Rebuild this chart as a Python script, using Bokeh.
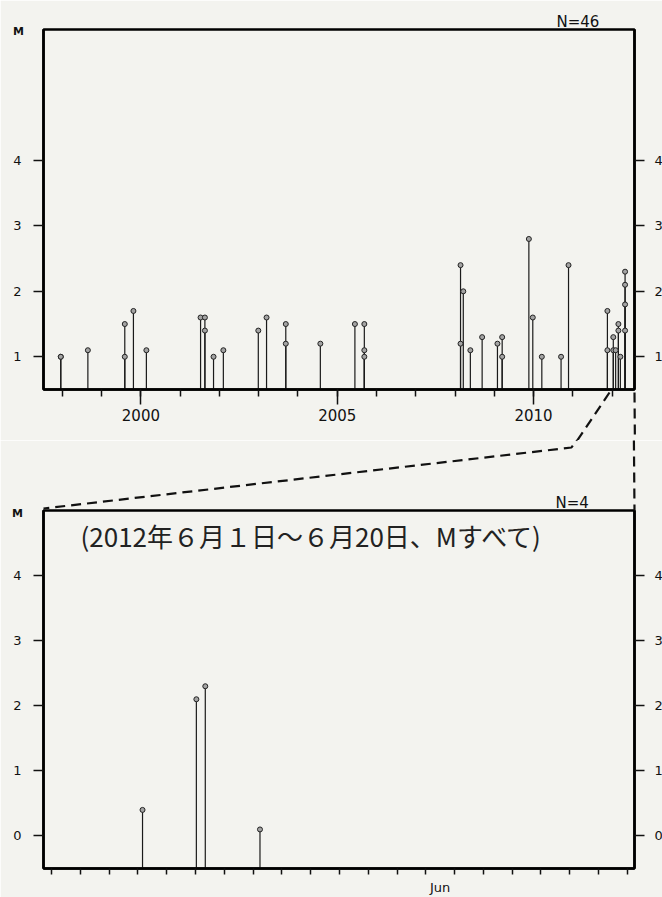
from bokeh.plotting import figure
from bokeh.models import (Range1d, LinearAxis, FixedTicker, SingleIntervalTicker,
                          Label, ColumnDataSource)
from bokeh.core.properties import value
from bokeh.layouts import column
from bokeh.embed import file_html
from bokeh.resources import INLINE

# ---------------- data ----------------
# Upper panel: events (decimal year, magnitude), N=46
top_years = [1997.96, 1997.96, 1998.65, 1999.59, 1999.59, 1999.81, 2000.14,
             2001.52, 2001.63, 2001.63, 2001.85, 2002.10, 2002.99, 2003.20,
             2003.69, 2003.69, 2004.57, 2005.45, 2005.69, 2005.69, 2005.69,
             2008.14, 2008.14, 2008.21, 2008.39, 2008.69, 2009.08, 2009.20,
             2009.20, 2009.88, 2009.98, 2010.21, 2010.70, 2010.89, 2011.88,
             2011.88, 2012.03, 2012.03, 2012.09, 2012.16, 2012.16, 2012.21,
             2012.33, 2012.33, 2012.33, 2012.33]
top_mags = [1.0, 1.0, 1.1, 1.5, 1.0, 1.7, 1.1,
            1.6, 1.6, 1.4, 1.0, 1.1, 1.4, 1.6,
            1.5, 1.2, 1.2, 1.5, 1.5, 1.1, 1.0,
            2.4, 1.2, 2.0, 1.1, 1.3, 1.2, 1.3,
            1.0, 2.8, 1.6, 1.0, 1.0, 2.4, 1.7,
            1.1, 1.3, 1.1, 1.1, 1.5, 1.4, 1.0,
            2.3, 2.1, 1.8, 1.4]
top_count_label = "N=46"

# Lower panel: 2012-06-01 .. 06-20 (days since June 1 00:00), N=4
june_days = [3.16, 5.03, 5.34, 7.24]
june_mags = [0.4, 2.1, 2.3, 0.1]
bottom_count_label = "N=4"
month_label = "Jun"
day_ticks = list(range(0, 21))
bottom_title = "(2012年６月１日～６月20日、Mすべて)"

top_yticks = [1, 2, 3, 4]
bottom_yticks = [0, 1, 2, 3, 4]

# ---------------- styling / layout ----------------
BG = "#f3f3ef"
INK = "#111111"
FONT = "DejaVu Sans"

TX0, TX1 = 1997.52, 2012.57
TY0, TY1 = 0.5, 6.0
BX0, BX1 = -0.28, 20.25
BY0, BY1 = -0.5, 5.0

FW = 591
T_FH, B_FH = 360, 358
T_LEFT, T_RIGHT, T_TOP, T_BOT = 42, 29, 29, 51
B_LEFT, B_RIGHT, B_TOP, B_BOT = 43, 28, 70, 27

# page-pixel geometry of the frames
T_FL, T_FT = T_LEFT, T_TOP
T_FB = T_FT + T_FH
B_FL = B_LEFT
B_FT = T_TOP + T_FH + T_BOT + B_TOP
B_FB = B_FT + B_FH


def style_axis(ax, size="14px", standoff=10, out=10):
    ax.axis_line_width = 2.5
    ax.axis_line_color = "black"
    ax.major_tick_out = out
    ax.major_tick_in = 0
    ax.minor_tick_in = 0
    ax.major_tick_line_width = 1.5
    ax.minor_tick_line_width = 1.5
    ax.major_tick_line_color = INK
    ax.minor_tick_line_color = INK
    ax.major_label_text_font = FONT
    ax.major_label_text_font_size = size
    ax.major_label_text_color = INK
    ax.major_label_standoff = standoff


def make_fig(xr, yr, borders, fh):
    left, right, top, bottom = borders
    p = figure(frame_width=FW, frame_height=fh, x_range=Range1d(*xr), y_range=Range1d(*yr),
               output_backend="svg", toolbar_location=None,
               min_border_left=left, min_border_right=right,
               min_border_top=top, min_border_bottom=bottom,
               background_fill_color=BG, border_fill_color=BG,
               outline_line_color="black", outline_line_width=2.5)
    p.xgrid.visible = False
    p.ygrid.visible = False
    return p


def overlay_text(p, x, y, txt, dx, dy, size, align="left", bold=False):
    p.text(x=[x], y=[y], text=[txt], x_offset=dx, y_offset=dy, text_align=align,
           text_baseline="middle", text_font=value(FONT), text_font_size=size,
           text_font_style="bold" if bold else "normal", text_color=INK, level="overlay")


# ---------- top panel ----------
p1 = make_fig((TX0, TX1), (TY0, TY1), (T_LEFT, T_RIGHT, T_TOP, T_BOT), T_FH)
src1 = ColumnDataSource(dict(x=top_years, m=top_mags))
p1.segment(x0="x", y0=TY0, x1="x", y1="m", source=src1, line_color="#1a1a1a", line_width=1.2)
p1.scatter("x", "m", source=src1, size=5, fill_color="#a3a3a3", line_color="#222222", line_width=1)

xa = p1.xaxis[0]
xa.ticker = SingleIntervalTicker(interval=5, num_minor_ticks=5)
style_axis(xa, size="15px", standoff=4, out=15)
xa.minor_tick_out = 7
ya = p1.yaxis[0]
ya.ticker = FixedTicker(ticks=top_yticks)
style_axis(ya, size="13px", standoff=12)
ra = LinearAxis(ticker=FixedTicker(ticks=top_yticks))
style_axis(ra, size="13px", standoff=10)
p1.add_layout(ra, "right")

overlay_text(p1, TX0, TY1, "M", -25, 2, "11px", align="center", bold=True)
overlay_text(p1, TX1, TY1, top_count_label, -78, -8, "15px")

# ---------- bottom panel ----------
p2 = make_fig((BX0, BX1), (BY0, BY1), (B_LEFT, B_RIGHT, B_TOP, B_BOT), B_FH)
src2 = ColumnDataSource(dict(x=june_days, m=june_mags))
p2.segment(x0="x", y0=BY0, x1="x", y1="m", source=src2, line_color="#1a1a1a", line_width=1.2)
p2.scatter("x", "m", source=src2, size=5, fill_color="#a3a3a3", line_color="#222222", line_width=1)

xb = p2.xaxis[0]
xb.ticker = FixedTicker(ticks=[13.5], minor_ticks=day_ticks)
style_axis(xb, size="13px", standoff=5, out=0)
xb.minor_tick_out = 6
xb.major_label_overrides = {13.5: month_label}
yb = p2.yaxis[0]
yb.ticker = FixedTicker(ticks=bottom_yticks)
style_axis(yb, size="13px", standoff=12)
rb = LinearAxis(ticker=FixedTicker(ticks=bottom_yticks))
style_axis(rb, size="13px", standoff=10)
p2.add_layout(rb, "right")

overlay_text(p2, BX0, BY1, "M", -26, 3, "11px", align="center", bold=True)
overlay_text(p2, BX1, BY1, bottom_count_label, -79, -8, "15px")
p2.add_layout(Label(x=BX0, y=BY1, x_offset=37, y_offset=-25, text=bottom_title,
                    text_align="left", text_baseline="middle", text_font="Noto Sans CJK JP",
                    text_font_size="26px", text_color="#222222"))

# ---------- dashed zoom connector (page-pixel path, drawn in both panels) ----------
conn_left = [(608, 392), (571, 447), (B_FL, B_FT - 2)]
conn_right = [(633, 392), (B_FL + FW, B_FT)]


def to_top(pt):
    px, py = pt
    return (TX0 + (px - T_FL) / FW * (TX1 - TX0), TY0 + (T_FB - py) / T_FH * (TY1 - TY0))


def to_bot(pt):
    px, py = pt
    return (BX0 + (px - B_FL) / FW * (BX1 - BX0), BY0 + (B_FB - py) / B_FH * (BY1 - BY0))


for fig, conv in ((p1, to_top), (p2, to_bot)):
    for path in (conn_left, conn_right):
        pts = [conv(q) for q in path]
        fig.line(x=[q[0] for q in pts], y=[q[1] for q in pts], line_color=INK,
                 line_width=2.2, line_dash="10 6", level="overlay")

layout = column(p1, p2, spacing=0)
open("out.html", "w").write(file_html(layout, INLINE))
